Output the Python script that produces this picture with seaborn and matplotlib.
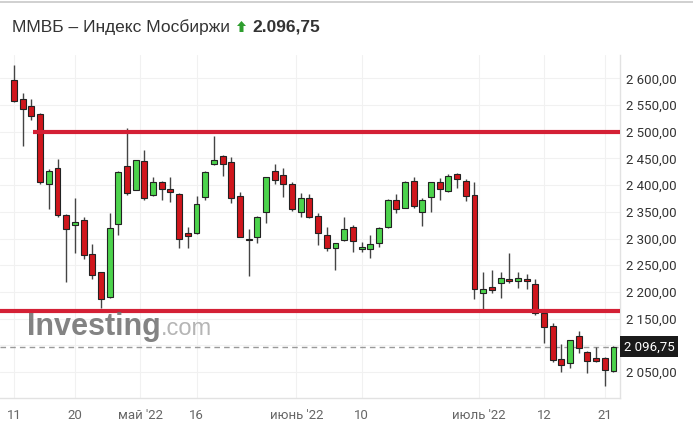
import numpy as np
import pandas as pd
import matplotlib
matplotlib.use("Agg")
import matplotlib.pyplot as plt
import matplotlib.transforms as mtransforms
from matplotlib.patches import Polygon
from matplotlib.ticker import FuncFormatter
import seaborn as sns

# ---------------- data ----------------
opens = [2598, 2561, 2549, 2533, 2403, 2433, 2344, 2326, 2335, 2271,
         2237, 2191, 2328, 2436, 2391, 2446, 2381, 2406, 2393, 2383,
         2310, 2310, 2378, 2440, 2455, 2443, 2380, 2300, 2302, 2350,
         2426, 2419, 2403, 2350, 2375, 2342, 2307, 2282, 2297, 2322,
         2280, 2281, 2291, 2321, 2373, 2358, 2408, 2349, 2377, 2405,
         2389, 2420, 2408, 2382, 2197, 2209, 2216, 2224, 2221, 2225,
         2215, 2161, 2136, 2074, 2066, 2118, 2088, 2076, 2076, 2052]
highs = [2625, 2572, 2561, 2535, 2431, 2449, 2346, 2375, 2340, 2290,
         2238, 2347, 2427, 2508, 2448, 2466, 2415, 2408, 2416, 2385,
         2322, 2380, 2426, 2492, 2457, 2452, 2388, 2317, 2342, 2416,
         2440, 2433, 2405, 2385, 2383, 2348, 2322, 2292, 2341, 2325,
         2294, 2307, 2322, 2374, 2383, 2407, 2416, 2375, 2406, 2413,
         2420, 2422, 2411, 2406, 2237, 2241, 2237, 2273, 2237, 2234,
         2224, 2163, 2141, 2102, 2110, 2126, 2090, 2096, 2077, 2098]
lows = [2556, 2473, 2522, 2403, 2355, 2341, 2218, 2273, 2261, 2225,
        2169, 2189, 2307, 2381, 2390, 2373, 2379, 2373, 2369, 2283,
        2283, 2308, 2372, 2437, 2417, 2367, 2302, 2230, 2292, 2329,
        2403, 2378, 2352, 2341, 2338, 2288, 2277, 2241, 2295, 2275,
        2275, 2263, 2284, 2319, 2347, 2357, 2358, 2323, 2350, 2373,
        2387, 2394, 2371, 2186, 2165, 2197, 2188, 2216, 2207, 2205,
        2157, 2105, 2069, 2049, 2057, 2085, 2047, 2068, 2024, 2050]
closes = [2558, 2543, 2530, 2405, 2426, 2344, 2317, 2330, 2270, 2232,
          2187, 2319, 2424, 2385, 2447, 2375, 2406, 2393, 2387, 2299,
          2305, 2365, 2425, 2447, 2439, 2375, 2303, 2297, 2341, 2415,
          2410, 2402, 2355, 2375, 2340, 2310, 2282, 2291, 2318, 2295,
          2285, 2290, 2320, 2372, 2355, 2406, 2360, 2373, 2405, 2393,
          2418, 2411, 2380, 2206, 2206, 2204, 2226, 2220, 2226, 2220,
          2160, 2134, 2073, 2063, 2109, 2094, 2071, 2071, 2054, 2096.75]

holidays = ["2022-05-02", "2022-05-03", "2022-05-09", "2022-05-10", "2022-06-13"]
dates = [d for d in pd.bdate_range("2022-04-11", "2022-07-22")
         if d.strftime("%Y-%m-%d") not in holidays]

day_ticks = ["2022-04-11", "2022-04-20", "2022-05-16", "2022-06-10", "2022-07-12", "2022-07-21"]
month_ticks = {"2022-05": "май '22", "2022-06": "июнь '22", "2022-07": "июль '22"}
y_ticks = [2050, 2150, 2200, 2250, 2300, 2350, 2400, 2450, 2500, 2550, 2600]
support_level = 2165
resistance_level = 2500
last_price = 2096.75
title = "ММВБ – Индекс Мосбиржи"
last_label = "2.096,75"

df = pd.DataFrame({"date": dates, "open": opens, "high": highs,
                   "low": lows, "close": closes})
df["x"] = np.arange(len(df))
df["up"] = df["close"] >= df["open"]

# ---------------- figure ----------------
sns.set_theme(style="white")
plt.rcParams["font.family"] = ["Roboto", "DejaVu Sans"]

fig = plt.figure(figsize=(6.93, 4.34), dpi=100)
ax = fig.add_axes([0.0, 1 - 398 / 434, 620 / 693, (398 - 55) / 434])

RED = "#d0161c"
GREEN = "#4cd34c"
LINE_RED = "#d42035"

# wicks
ax.vlines(df["x"], df["low"], df["high"], color="#444444", lw=1.0, zorder=3)
# bodies
body_bottom = df[["open", "close"]].min(axis=1)
body_h = (df["close"] - df["open"]).abs().clip(lower=1.5)
ax.bar(df["x"], body_h, bottom=body_bottom, width=0.68,
       color=np.where(df["up"], GREEN, RED), edgecolor="#222222",
       linewidth=0.8, zorder=4)

x_left, x_right = -1.62, 69.75
ax.set_xlim(x_left, x_right)
ax.set_ylim(2001, 2644)

# horizontal levels
ax.hlines(resistance_level, 2.15, x_right, color=LINE_RED, lw=3.0, zorder=5)
ax.hlines(support_level, x_left, x_right, color=LINE_RED, lw=3.0, zorder=5)
ax.axhline(last_price, color="#9a9a9a", lw=1.0, ls=(0, (4, 3)), zorder=2)

# ticks
tick_pos, tick_lab = [], []
for d in day_ticks:
    i = df.index[df["date"] == pd.Timestamp(d)][0]
    tick_pos.append(float(i)); tick_lab.append(str(pd.Timestamp(d).day))
for m, lab in month_ticks.items():
    i = df.index[df["date"].dt.strftime("%Y-%m") == m][0]
    tick_pos.append(i - 0.5); tick_lab.append(lab)
order = np.argsort(tick_pos)
ax.set_xticks([tick_pos[k] for k in order])
ax.set_xticklabels([tick_lab[k] for k in order])

ax.set_yticks(y_ticks)
ax.yaxis.set_major_formatter(FuncFormatter(
    lambda v, p: f"{v:,.2f}".replace(",", " ").replace(".", ",")))
ax.yaxis.tick_right()
ax.tick_params(axis="y", length=0, pad=4, labelsize=9.5, labelcolor="#333333")
ax.tick_params(axis="x", length=0, pad=8, labelsize=9.5, labelcolor="#666666")

ax.grid(True, color="#f1f1f1", lw=0.8)
ax.axhline(2100, color="#f1f1f1", lw=0.8, zorder=0)
ax.set_axisbelow(True)
for s in ["top", "left"]:
    ax.spines[s].set_visible(False)
for s in ["right", "bottom"]:
    ax.spines[s].set_color("#e2e2e2")
    ax.spines[s].set_linewidth(1.0)

# last price label
trans = mtransforms.blended_transform_factory(ax.transAxes, ax.transData)
ax.text(1.006, last_price, "2 096,75", transform=trans, ha="left", va="center",
        color="white", fontsize=9.5, zorder=10, clip_on=False,
        bbox=dict(boxstyle="square,pad=0.3", fc="#1a1a1a", ec="none"))

# watermark
wm = fig.text(27 / 693, 1 - 327 / 434, "Investing", fontsize=22, fontweight="bold",
              family=["Liberation Sans", "DejaVu Sans"], color="#6d6d6d",
              alpha=0.85, va="center", ha="left", zorder=1)

# title
W, H = 693.0, 434.0
tt = fig.text(12 / W, 1 - 27 / H, title, fontsize=12.5,
              family=["Liberation Sans", "DejaVu Sans"], color="#333333",
              va="center", ha="left")
fig.canvas.draw()
r = fig.canvas.get_renderer()
bb = tt.get_window_extent(r)
ax0 = bb.x1 + 7  # pixel start of arrow
cy = H - 27      # pixel centre (from bottom)
arrow_px = [(ax0, cy + 1), (ax0 + 4.5, cy + 6), (ax0 + 9, cy + 1),
            (ax0 + 6.5, cy + 1), (ax0 + 6.5, cy - 5), (ax0 + 2.5, cy - 5),
            (ax0 + 2.5, cy + 1)]
fig.add_artist(Polygon([(px / W, py / H) for px, py in arrow_px], closed=True,
                       transform=fig.transFigure, fc="#2e9e2e", ec="none"))
fig.text((ax0 + 15) / W, 1 - 27 / H, last_label, fontsize=12.5, fontweight="bold",
         family=["Liberation Sans", "DejaVu Sans"], color="#333333",
         va="center", ha="left")
bbw = wm.get_window_extent(r)
inv = fig.transFigure.inverted()
xw = inv.transform((bbw.x1, bbw.y0))[0]
fig.text(xw, 1 - 329 / H, ".com", fontsize=17,
         family=["Liberation Sans", "DejaVu Sans"], color="#a8a8a8",
         alpha=0.85, va="center", ha="left", zorder=1)

# top border line
fig.add_artist(plt.Line2D([0, 1], [1 - 1.5 / H, 1 - 1.5 / H],
                          transform=fig.transFigure, color="#c8c8c8", lw=1.2))

fig.savefig("out.png", dpi=100)
